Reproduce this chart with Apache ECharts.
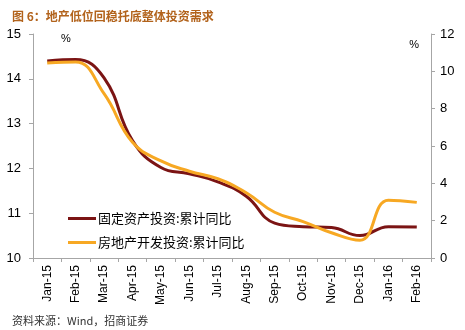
<!DOCTYPE html>
<html>
<head>
<meta charset="utf-8">
<script src="https://cdn.jsdelivr.net/npm/echarts@6/dist/echarts.min.js"></script>
<style>
html,body{margin:0;padding:0;background:#fff;}
#c{width:465px;height:330px;}
</style>
</head>
<body>
<div id="c"></div>
<script>
var categories = ['Jan-15','Feb-15','Mar-15','Apr-15','May-15','Jun-15','Jul-15','Aug-15','Sep-15','Oct-15','Nov-15','Dec-15','Jan-16','Feb-16'];
var faiValues = [14.40, 14.43, 14.02, 12.62, 12.02, 11.88, 11.70, 11.38, 10.78, 10.70, 10.68, 10.50, 10.70, 10.69];
var reiValues = [10.45, 10.50, 8.80, 6.20, 5.20, 4.65, 4.25, 3.50, 2.45, 1.95, 1.35, 0.95, 3.10, 2.98];
var leftTicks = {min: 10, max: 15, interval: 1};
var rightTicks = {min: 0, max: 12, interval: 2};
var seriesNames = ['固定资产投资:累计同比', '房地产开发投资:累计同比'];

var chart = echarts.init(document.getElementById('c'), null, {renderer: 'canvas'});
var axisGray = '#a6a6a6';
var txt = {fontFamily: 'Liberation Sans, Arial, sans-serif', color: '#000'};
chart.setOption({
  animation: false,
  backgroundColor: '#fff',
  title: [
    {text: '图 6：地产低位回稳托底整体投资需求', left: 7, top: 5,
     textStyle: {fontFamily: 'Noto Sans CJK SC', fontSize: 12, fontWeight: 'bold', color: '#b2631c'}},
    {text: '资料来源：Wind，招商证券', left: 7, top: 310,
     textStyle: {fontFamily: 'Noto Sans CJK SC', fontSize: 11, fontWeight: 'normal', color: '#333'}}
  ],
  grid: {left: 33, right: 34, top: 34, bottom: 72, containLabel: false},
  legend: {
    orient: 'vertical', left: 63, top: 207, itemGap: 11,
    itemWidth: 28, itemHeight: 3, icon: 'rect',
    textStyle: {fontFamily: 'Noto Sans CJK SC', fontSize: 13, color: '#000', padding: [0,0,0,-3]},
    data: seriesNames
  },
  xAxis: {
    type: 'category', data: categories, boundaryGap: true,
    axisLine: {lineStyle: {color: axisGray, width: 1}},
    axisTick: {show: true, length: 4, inside: false, lineStyle: {color: axisGray}},
    axisLabel: Object.assign({rotate: 90, fontSize: 12, margin: 7, interval: 0}, txt),
    splitLine: {show: false}
  },
  yAxis: [
    {type: 'value', min: leftTicks.min, max: leftTicks.max, interval: leftTicks.interval,
     name: '%', nameLocation: 'end', nameGap: -10,
     nameTextStyle: {fontFamily: 'Liberation Sans, Arial', fontSize: 11, color: '#000', align: 'left', padding: [0,0,0,28]},
     axisLine: {show: true, lineStyle: {color: axisGray}},
     axisTick: {show: true, length: 4, lineStyle: {color: axisGray}},
     axisLabel: Object.assign({fontSize: 13, margin: 12}, txt),
     splitLine: {show: false}},
    {type: 'value', min: rightTicks.min, max: rightTicks.max, interval: rightTicks.interval,
     position: 'right',
     name: '%', nameLocation: 'end', nameGap: -16,
     nameTextStyle: {fontFamily: 'Liberation Sans, Arial', fontSize: 11, color: '#000', align: 'right', padding: [0,12,0,0]},
     axisLine: {show: true, lineStyle: {color: axisGray}},
     axisTick: {show: true, length: 4, lineStyle: {color: axisGray}},
     axisLabel: Object.assign({fontSize: 13, margin: 9}, txt),
     splitLine: {show: false}}
  ],
  series: [
    {name: seriesNames[0], type: 'line', yAxisIndex: 0, data: faiValues, smooth: 0.45,
     showSymbol: false, symbol: 'none', itemStyle: {color: '#7b1414'},
     lineStyle: {color: '#7b1414', width: 3}},
    {name: seriesNames[1], type: 'line', yAxisIndex: 1, data: reiValues, smooth: 0.45,
     showSymbol: false, symbol: 'none', itemStyle: {color: '#f7a823'},
     lineStyle: {color: '#f7a823', width: 3}}
  ]
});
</script>
</body>
</html>
